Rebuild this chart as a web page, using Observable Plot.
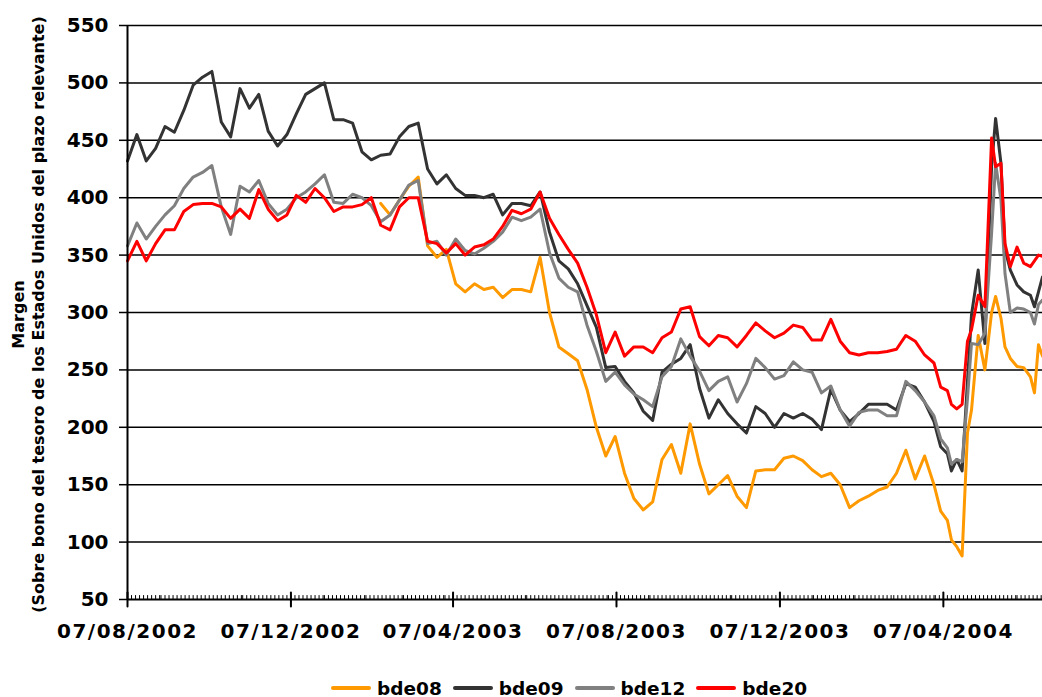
<!DOCTYPE html>
<html><head><meta charset="utf-8">
<script src="https://cdn.jsdelivr.net/npm/d3@7"></script>
<script src="https://cdn.jsdelivr.net/npm/@observablehq/plot@0.6"></script>
<style>
body{margin:0;background:#fff;font-family:"DejaVu Sans",sans-serif;}
#chart svg{display:block;}
#legend{position:absolute;top:676px;left:331px;height:24px;display:flex;align-items:center;font-weight:bold;font-size:18.5px;color:#000;}
.item{display:flex;align-items:center;margin-right:11px;}
.sw{width:40px;height:4px;border-radius:2px;margin-right:6px;}
</style></head><body><div id="chart"></div><div id="legend"></div>
<script>
const dates = [
"2002-08-07","2002-08-14","2002-08-21","2002-08-28","2002-09-04","2002-09-11","2002-09-18","2002-09-25","2002-10-02","2002-10-09",
"2002-10-16","2002-10-23","2002-10-30","2002-11-06","2002-11-13","2002-11-20","2002-11-27","2002-12-04","2002-12-11","2002-12-18",
"2002-12-25","2003-01-01","2003-01-08","2003-01-15","2003-01-22","2003-01-29","2003-02-05","2003-02-12","2003-02-19","2003-02-26",
"2003-03-05","2003-03-12","2003-03-19","2003-03-26","2003-04-02","2003-04-09","2003-04-16","2003-04-23","2003-04-30","2003-05-07",
"2003-05-14","2003-05-21","2003-05-28","2003-06-04","2003-06-11","2003-06-18","2003-06-25","2003-07-02","2003-07-09","2003-07-16",
"2003-07-23","2003-07-30","2003-08-06","2003-08-13","2003-08-20","2003-08-27","2003-09-03","2003-09-10","2003-09-17","2003-09-24",
"2003-10-01","2003-10-08","2003-10-15","2003-10-22","2003-10-29","2003-11-05","2003-11-12","2003-11-19","2003-11-26","2003-12-03",
"2003-12-10","2003-12-17","2003-12-24","2003-12-31","2004-01-07","2004-01-14","2004-01-21","2004-01-28","2004-02-04","2004-02-11",
"2004-02-18","2004-02-25","2004-03-03","2004-03-10","2004-03-17","2004-03-24","2004-03-31",
"2004-04-05","2004-04-10","2004-04-13","2004-04-17","2004-04-21","2004-04-25","2004-04-28","2004-05-03","2004-05-08","2004-05-13",
"2004-05-16","2004-05-20","2004-05-23","2004-05-27","2004-06-01","2004-06-06","2004-06-11","2004-06-14","2004-06-17","2004-06-20"
];
const bde08 = [
null,null,null,null,null,null,null,null,null,null,
null,null,null,null,null,null,null,null,null,null,
null,null,null,null,null,null,null,395,385,398,
410,418,358,348,355,325,318,325,320,322,
313,320,320,318,348,300,270,264,258,233,
200,175,192,160,138,128,135,172,185,160,
203,168,142,150,158,140,130,162,163,163,
173,175,171,163,157,160,150,130,136,140,
145,148,160,180,155,175,150,
127,119,102,96,88,195,215,280,250,300,
314,295,270,260,253,252,244,230,272,262
];
const bde09 = [
432,455,432,443,462,457,476,498,505,510,
466,453,495,478,490,458,445,455,473,490,
495,500,468,468,465,440,433,437,438,453,
462,465,425,412,420,408,402,402,400,403,
385,395,395,393,405,370,345,338,325,306,
287,252,253,240,230,214,206,248,255,260,
272,234,208,224,212,203,195,218,212,200,
212,208,212,207,198,233,215,205,212,220,
220,220,215,238,235,222,205,
183,177,162,172,162,240,298,337,273,427,
469,430,355,337,324,318,315,305,318,331
];
const bde12 = [
358,378,364,375,385,393,408,418,422,428,
392,368,410,405,415,395,385,390,400,405,
412,420,396,395,403,400,393,379,385,398,
411,415,360,362,350,364,354,351,356,362,
370,383,380,383,390,352,330,322,318,289,
266,240,248,237,229,224,218,244,253,277,
262,249,232,240,244,222,238,260,252,242,
245,257,250,248,230,236,215,201,213,215,
215,210,210,240,232,222,210,
190,182,168,172,170,225,273,272,282,369,
430,398,334,300,304,303,300,290,307,311
];
const bde20 = [
345,362,345,360,372,372,388,394,395,395,
392,382,390,382,407,390,380,385,402,396,
408,400,388,392,392,394,400,376,372,392,
400,400,362,360,352,360,350,357,359,364,
375,389,386,390,405,382,368,355,343,322,
298,265,283,262,270,270,265,278,283,303,
305,279,271,280,278,270,280,291,284,278,
282,289,287,276,276,294,275,265,263,265,
265,266,268,280,275,263,256,
235,232,220,216,220,275,285,315,305,452,
427,430,360,340,357,343,340,345,350,349
];
const seriesNames = ["bde08","bde09","bde12","bde20"];
const seriesColors = ["#FF9900","#333333","#808080","#FF0000"];
const yTicks = [50,100,150,200,250,300,350,400,450,500,550];
const xTickDates = ["2002-08-07","2002-12-07","2003-04-07","2003-08-07","2003-12-07","2004-04-07"];
const xDomain = ["2002-08-07","2004-06-20"];
const yTitle = "Margen\n(Sobre bono del tesoro de los Estados Unidos del plazo relevante)";

const seriesValues = [bde08, bde09, bde12, bde20];
const data = seriesNames.flatMap((name, k) => dates.map((d, i) => ({series: name, date: new Date(d), value: seriesValues[k][i]}))).filter(d => d.value != null);
const start = new Date(xDomain[0]), end = new Date(xDomain[1]);
const majorTicks = xTickDates.map(d => new Date(d));
const minorTicks = d3.utcDay.every(3).range(start, end);
const upShape = {draw(context, l) { context.moveTo(0, 0); context.lineTo(0, -l); }};

const chart = Plot.plot({
  width: 1042, height: 655,
  marginLeft: 127, marginRight: 0, marginTop: 25, marginBottom: 56,
  style: {fontFamily: "DejaVu Sans, sans-serif", fontSize: "20px", fontWeight: "bold", color: "#000", background: "#fff", overflow: "visible"},
  x: {type: "utc", domain: [start, end], axis: null},
  y: {domain: [50, 550], axis: null},
  color: {domain: seriesNames, range: seriesColors},
  marks: [
    Plot.ruleY(yTicks.slice(1), {stroke: "#000", strokeWidth: 1.5}),
    Plot.line(data, {x: "date", y: "value", z: "series", stroke: "series", strokeWidth: 3, strokeLinejoin: "round", strokeLinecap: "round"}),
    Plot.ruleY([yTicks[0]], {stroke: "#000", strokeWidth: 2}),
    Plot.ruleX([start], {stroke: "#000", strokeWidth: 2}),
    Plot.vector(minorTicks, {x: d => d, y: () => yTicks[0], length: 4, anchor: "start", shape: upShape, stroke: "#000", strokeWidth: 1}),
    Plot.vector(majorTicks, {x: d => d, y: () => yTicks[0], length: 14, anchor: "middle", shape: upShape, stroke: "#000", strokeWidth: 2}),
    Plot.axisY(yTicks, {anchor: "left", tickSize: 8, tickPadding: 11, label: null, strokeWidth: 1.5, fontSize: 20, fontWeight: "bold"}),
    Plot.axisX(majorTicks, {anchor: "bottom", tickSize: 0, tickPadding: 24, label: null, tickFormat: d3.utcFormat("%d/%m/%Y"), fontSize: 20, fontWeight: "bold"}),
    Plot.text([yTitle], {frameAnchor: "left", textAnchor: "middle", lineAnchor: "middle", rotate: -90, dx: -100, dy: 2, text: d => d, fontSize: 16, fontWeight: "bold", lineHeight: 1.25, fill: "#000"})
  ]
});
d3.select(chart).selectAll('g[aria-label="x-axis tick label"] text').attr("letter-spacing", "1.5px");
document.getElementById("chart").appendChild(chart);

const legend = document.getElementById("legend");
seriesNames.forEach((name, k) => {
  const item = document.createElement("div");
  item.className = "item";
  item.innerHTML = `<span class="sw" style="background:${seriesColors[k]}"></span><span>${name}</span>`;
  legend.appendChild(item);
});
</script>
</body></html>
